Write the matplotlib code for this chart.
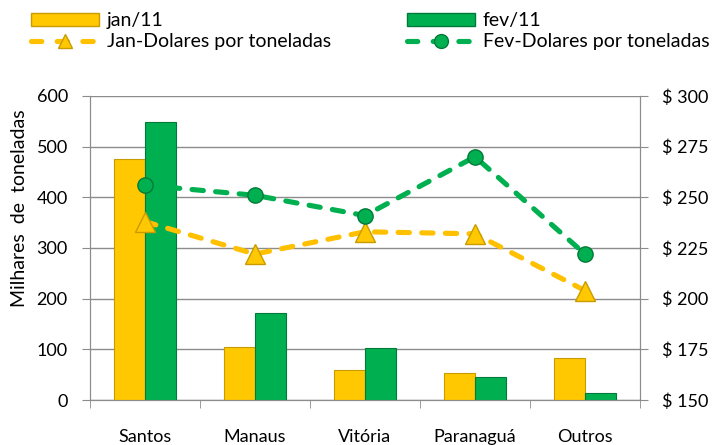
import matplotlib
matplotlib.use("Agg")
import matplotlib.pyplot as plt
import numpy as np
from matplotlib.patches import Patch
from matplotlib.lines import Line2D

plt.rcParams['font.family'] = ['Lato', 'DejaVu Sans']

categories = ["Santos", "Manaus", "Vitória", "Paranaguá", "Outros"]
jan_tons = [475, 105, 59, 53, 82]
fev_tons = [549, 172, 103, 46, 14]
jan_usd = [238, 222, 233, 232, 204]
fev_usd = [256, 251, 241, 270, 222]
left_ticks = [0, 100, 200, 300, 400, 500, 600]
right_ticks = [150, 175, 200, 225, 250, 275, 300]

YEL = "#FFC800"
YEL_E = "#C89B00"
GRN = "#00B050"
GRN_E = "#007A38"
YEL_L = "#FFC000"
GRID = "#8C8C8C"

fig = plt.figure(figsize=(7.13, 4.45), dpi=100)
ax = fig.add_axes([0.1262, 0.1011, 0.7714, 0.6832])
ax2 = ax.twinx()

x = np.arange(len(categories))
w = 0.285
ax.bar(x - w/2, jan_tons, w, color=YEL, edgecolor=YEL_E, linewidth=0.8, zorder=3)
ax.bar(x + w/2, fev_tons, w, color=GRN, edgecolor=GRN_E, linewidth=0.8, zorder=3)

ax.set_xlim(-0.5, len(categories) - 0.5)
ax.set_ylim(0, 600)
ax.set_yticks(left_ticks)
ax.set_xticks(x)
ax.set_xticklabels(categories, fontsize=13)
ax.set_xticks(np.arange(-0.5, len(categories)), minor=True)
ax.tick_params(axis='x', which='major', length=0, pad=21)
ax.tick_params(axis='x', which='minor', length=6, color=GRID, direction='out')
ax.tick_params(axis='y', labelsize=13, length=6, color=GRID, direction='out', pad=10)
ax.grid(axis='y', color=GRID, linewidth=1.0, zorder=0)
ax.set_axisbelow(True)
ax.set_ylabel("Milhares  de  toneladas", fontsize=14)
ax.yaxis.set_label_coords(-0.112, 0.63)

dash = (0, (2.2, 2.4))
ax2.plot(x, jan_usd, color=YEL_L, lw=3.7, ls=dash, dash_capstyle='round', marker='^', ms=14,
         mfc=YEL, mec=YEL_E, mew=1, zorder=5)
ax2.plot(x, fev_usd, color=GRN, lw=3.7, ls=dash, dash_capstyle='round', marker='o', ms=11,
         mfc=GRN, mec=GRN_E, mew=1, zorder=5)
ax2.set_ylim(150, 300)
ax2.set_yticks(right_ticks)
ax2.set_yticklabels([f"$ {v}" for v in right_ticks])
ax2.tick_params(axis='y', labelsize=13, length=6, color=GRID, direction='out', pad=10)

for a in (ax, ax2):
    a.spines['top'].set_visible(False)
    for s in ['left', 'right', 'bottom']:
        a.spines[s].set_color(GRID)

ldash = (0, (2.0, 3.0))
handles = [
    Patch(facecolor=YEL, edgecolor=YEL_E, label='jan/11'),
    Line2D([0], [0], color=YEL_L, lw=3.7, ls=ldash, dash_capstyle='round', marker='^', ms=10,
           mfc=YEL, mec=YEL_E, label='Jan-Dolares por toneladas'),
    Patch(facecolor=GRN, edgecolor=GRN_E, label='fev/11'),
    Line2D([0], [0], color=GRN, lw=3.7, ls=ldash, dash_capstyle='round', marker='o', ms=10,
           mfc=GRN, mec=GRN_E, label='Fev-Dolares por toneladas'),
]
fig.legend(handles=handles, ncol=2, loc='upper left', bbox_to_anchor=(0.033, 0.99),
           frameon=False, fontsize=14, handlelength=3.5, handleheight=0.6,
           handletextpad=0.4, columnspacing=3.9, labelspacing=0.2, borderaxespad=0.0)

fig.savefig("out.png", dpi=100)
